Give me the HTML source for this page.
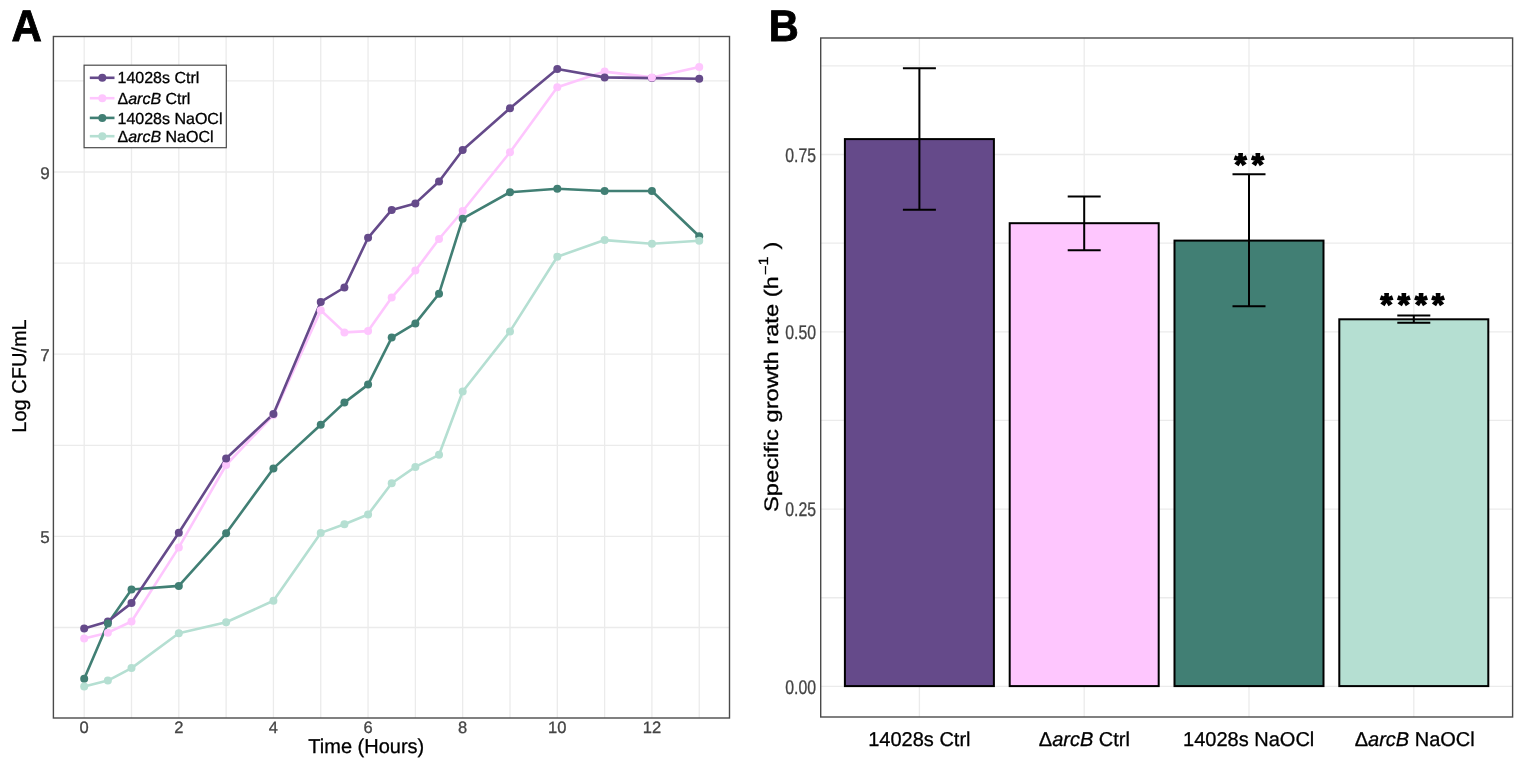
<!DOCTYPE html><html><head><meta charset="utf-8"><title>Figure</title><style>html,body{margin:0;padding:0;background:#fff;width:1535px;height:768px;overflow:hidden}svg{display:block}text{font-family:"Liberation Sans",Arial,Helvetica,sans-serif;text-rendering:geometricPrecision}.k{stroke:#000;stroke-width:.3px}.g{stroke:#444;stroke-width:.3px}</style></head><body>
<svg width="1535" height="768" viewBox="0 0 1535 768">
<rect width="1535" height="768" fill="#fff"/>
<g id="A">
<text transform="translate(11.6 41.2) scale(0.95 1)" font-size="44.2" font-weight="bold" fill="#000" stroke="#000" stroke-width="0.9">A</text>
<path d="M84.20 36.5V718M131.51 36.5V718M178.82 36.5V718M226.13 36.5V718M273.44 36.5V718M320.75 36.5V718M368.06 36.5V718M415.37 36.5V718M462.68 36.5V718M509.99 36.5V718M557.30 36.5V718M604.61 36.5V718M651.92 36.5V718M699.23 36.5V718M53.4 627.50H729.5M53.4 536.40H729.5M53.4 445.30H729.5M53.4 354.20H729.5M53.4 263.10H729.5M53.4 172.00H729.5M53.4 80.90H729.5" stroke="#EBEBEB" stroke-width="1.3" fill="none"/>
<polyline points="84.20,638.5 107.86,632.7 131.51,621.5 178.82,547.4 226.13,465.0 273.44,415.0 320.75,310.2 344.41,332.4 368.06,331.1 391.71,297.6 415.37,270.6 439.03,239.0 462.68,211.0 509.99,152.3 557.30,87.2 604.61,71.6 651.92,77.4 699.23,67.0" fill="none" stroke="#FEC6FE" stroke-width="2.6" stroke-linejoin="round"/>
<polyline points="84.20,686.6 107.86,680.6 131.51,668.1 178.82,633.3 226.13,622.3 273.44,600.8 320.75,532.9 344.41,524.3 368.06,514.5 391.71,483.3 415.37,466.9 439.03,454.8 462.68,391.5 509.99,331.4 557.30,256.7 604.61,240.1 651.92,243.7 699.23,240.8" fill="none" stroke="#B5DFD2" stroke-width="2.6" stroke-linejoin="round"/>
<polyline points="84.20,678.8 107.86,623.4 131.51,589.5 178.82,585.9 226.13,533.3 273.44,468.4 320.75,424.7 344.41,402.6 368.06,384.6 391.71,337.6 415.37,323.4 439.03,293.7 462.68,218.7 509.99,192.2 557.30,188.7 604.61,191.0 651.92,191.0 699.23,236.2" fill="none" stroke="#417F74" stroke-width="2.6" stroke-linejoin="round"/>
<polyline points="84.20,628.6 107.86,621.5 131.51,603.1 178.82,532.8 226.13,458.5 273.44,414.0 320.75,301.9 344.41,287.5 368.06,237.8 391.71,209.9 415.37,203.4 439.03,181.5 462.68,150.0 509.99,108.3 557.30,69.0 604.61,77.4 651.92,78.1 699.23,78.7" fill="none" stroke="#654A8A" stroke-width="2.6" stroke-linejoin="round"/>
<circle cx="84.20" cy="638.5" r="4.0" fill="#FEC6FE"/><circle cx="107.86" cy="632.7" r="4.0" fill="#FEC6FE"/><circle cx="131.51" cy="621.5" r="4.0" fill="#FEC6FE"/><circle cx="178.82" cy="547.4" r="4.0" fill="#FEC6FE"/><circle cx="226.13" cy="465.0" r="4.0" fill="#FEC6FE"/><circle cx="273.44" cy="415.0" r="4.0" fill="#FEC6FE"/><circle cx="320.75" cy="310.2" r="4.0" fill="#FEC6FE"/><circle cx="344.41" cy="332.4" r="4.0" fill="#FEC6FE"/><circle cx="368.06" cy="331.1" r="4.0" fill="#FEC6FE"/><circle cx="391.71" cy="297.6" r="4.0" fill="#FEC6FE"/><circle cx="415.37" cy="270.6" r="4.0" fill="#FEC6FE"/><circle cx="439.03" cy="239.0" r="4.0" fill="#FEC6FE"/><circle cx="462.68" cy="211.0" r="4.0" fill="#FEC6FE"/><circle cx="509.99" cy="152.3" r="4.0" fill="#FEC6FE"/><circle cx="557.30" cy="87.2" r="4.0" fill="#FEC6FE"/><circle cx="604.61" cy="71.6" r="4.0" fill="#FEC6FE"/><circle cx="699.23" cy="67.0" r="4.0" fill="#FEC6FE"/>
<circle cx="84.20" cy="628.6" r="4.0" fill="#654A8A"/><circle cx="107.86" cy="621.5" r="4.0" fill="#654A8A"/><circle cx="131.51" cy="603.1" r="4.0" fill="#654A8A"/><circle cx="178.82" cy="532.8" r="4.0" fill="#654A8A"/><circle cx="226.13" cy="458.5" r="4.0" fill="#654A8A"/><circle cx="273.44" cy="414.0" r="4.0" fill="#654A8A"/><circle cx="320.75" cy="301.9" r="4.0" fill="#654A8A"/><circle cx="344.41" cy="287.5" r="4.0" fill="#654A8A"/><circle cx="368.06" cy="237.8" r="4.0" fill="#654A8A"/><circle cx="391.71" cy="209.9" r="4.0" fill="#654A8A"/><circle cx="415.37" cy="203.4" r="4.0" fill="#654A8A"/><circle cx="439.03" cy="181.5" r="4.0" fill="#654A8A"/><circle cx="462.68" cy="150.0" r="4.0" fill="#654A8A"/><circle cx="509.99" cy="108.3" r="4.0" fill="#654A8A"/><circle cx="557.30" cy="69.0" r="4.0" fill="#654A8A"/><circle cx="604.61" cy="77.4" r="4.0" fill="#654A8A"/><circle cx="651.92" cy="78.1" r="4.0" fill="#654A8A"/><circle cx="699.23" cy="78.7" r="4.0" fill="#654A8A"/>
<circle cx="84.20" cy="678.8" r="4.0" fill="#417F74"/><circle cx="107.86" cy="623.4" r="4.0" fill="#417F74"/><circle cx="131.51" cy="589.5" r="4.0" fill="#417F74"/><circle cx="178.82" cy="585.9" r="4.0" fill="#417F74"/><circle cx="226.13" cy="533.3" r="4.0" fill="#417F74"/><circle cx="273.44" cy="468.4" r="4.0" fill="#417F74"/><circle cx="320.75" cy="424.7" r="4.0" fill="#417F74"/><circle cx="344.41" cy="402.6" r="4.0" fill="#417F74"/><circle cx="368.06" cy="384.6" r="4.0" fill="#417F74"/><circle cx="391.71" cy="337.6" r="4.0" fill="#417F74"/><circle cx="415.37" cy="323.4" r="4.0" fill="#417F74"/><circle cx="439.03" cy="293.7" r="4.0" fill="#417F74"/><circle cx="462.68" cy="218.7" r="4.0" fill="#417F74"/><circle cx="509.99" cy="192.2" r="4.0" fill="#417F74"/><circle cx="557.30" cy="188.7" r="4.0" fill="#417F74"/><circle cx="604.61" cy="191.0" r="4.0" fill="#417F74"/><circle cx="651.92" cy="191.0" r="4.0" fill="#417F74"/><circle cx="699.23" cy="236.2" r="4.0" fill="#417F74"/>
<circle cx="84.20" cy="686.6" r="4.0" fill="#B5DFD2"/><circle cx="107.86" cy="680.6" r="4.0" fill="#B5DFD2"/><circle cx="131.51" cy="668.1" r="4.0" fill="#B5DFD2"/><circle cx="178.82" cy="633.3" r="4.0" fill="#B5DFD2"/><circle cx="226.13" cy="622.3" r="4.0" fill="#B5DFD2"/><circle cx="273.44" cy="600.8" r="4.0" fill="#B5DFD2"/><circle cx="320.75" cy="532.9" r="4.0" fill="#B5DFD2"/><circle cx="344.41" cy="524.3" r="4.0" fill="#B5DFD2"/><circle cx="368.06" cy="514.5" r="4.0" fill="#B5DFD2"/><circle cx="391.71" cy="483.3" r="4.0" fill="#B5DFD2"/><circle cx="415.37" cy="466.9" r="4.0" fill="#B5DFD2"/><circle cx="439.03" cy="454.8" r="4.0" fill="#B5DFD2"/><circle cx="462.68" cy="391.5" r="4.0" fill="#B5DFD2"/><circle cx="509.99" cy="331.4" r="4.0" fill="#B5DFD2"/><circle cx="557.30" cy="256.7" r="4.0" fill="#B5DFD2"/><circle cx="604.61" cy="240.1" r="4.0" fill="#B5DFD2"/><circle cx="651.92" cy="243.7" r="4.0" fill="#B5DFD2"/><circle cx="699.23" cy="240.8" r="4.0" fill="#B5DFD2"/>
<circle cx="651.92" cy="77.4" r="4.0" fill="#FEC6FE"/>
<rect x="53.4" y="36.5" width="676.1" height="681.5" fill="none" stroke="#4A4A4A" stroke-width="1.4"/>
<text x="49.6" y="542.9" font-size="17" fill="#444444" class="g" text-anchor="end">5</text>
<text x="49.6" y="360.7" font-size="17" fill="#444444" class="g" text-anchor="end">7</text>
<text x="49.6" y="178.5" font-size="17" fill="#444444" class="g" text-anchor="end">9</text>
<text x="84.20" y="733.3" font-size="16.5" fill="#444444" class="g" text-anchor="middle">0</text>
<text x="178.82" y="733.3" font-size="16.5" fill="#444444" class="g" text-anchor="middle">2</text>
<text x="273.44" y="733.3" font-size="16.5" fill="#444444" class="g" text-anchor="middle">4</text>
<text x="368.06" y="733.3" font-size="16.5" fill="#444444" class="g" text-anchor="middle">6</text>
<text x="462.68" y="733.3" font-size="16.5" fill="#444444" class="g" text-anchor="middle">8</text>
<text x="557.30" y="733.3" font-size="16.5" fill="#444444" class="g" text-anchor="middle">10</text>
<text x="651.92" y="733.3" font-size="16.5" fill="#444444" class="g" text-anchor="middle">12</text>
<text x="366.3" y="753.4" font-size="20" fill="#000" class="k" text-anchor="middle">Time (Hours)</text>
<text transform="translate(26.3 376) rotate(-90)" font-size="20" fill="#000" class="k" text-anchor="middle">Log CFU/mL</text>
<rect x="84.1" y="65.2" width="142.2" height="82.5" fill="#fff" stroke="#4A4A4A" stroke-width="1.2"/>
<path d="M89.8 77.8H114.5" stroke="#654A8A" stroke-width="2.6"/><circle cx="102.3" cy="77.8" r="4.0" fill="#654A8A"/>
<text x="117.5" y="83.4" font-size="16" fill="#000" class="k">14028s Ctrl</text>
<path d="M89.8 98.2H114.5" stroke="#FEC6FE" stroke-width="2.6"/><circle cx="102.3" cy="98.2" r="4.0" fill="#FEC6FE"/>
<text x="117.5" y="103.8" font-size="16" fill="#000" class="k">Δ<tspan font-style="italic">arcB</tspan> Ctrl</text>
<path d="M89.8 117.9H114.5" stroke="#417F74" stroke-width="2.6"/><circle cx="102.3" cy="117.9" r="4.0" fill="#417F74"/>
<text x="117.5" y="123.5" font-size="16" fill="#000" class="k">14028s NaOCl</text>
<path d="M89.8 136.2H114.5" stroke="#B5DFD2" stroke-width="2.6"/><circle cx="102.3" cy="136.2" r="4.0" fill="#B5DFD2"/>
<text x="117.5" y="141.8" font-size="16" fill="#000" class="k">Δ<tspan font-style="italic">arcB</tspan> NaOCl</text>
</g>
<g id="B">
<text transform="translate(768.7 41.4) scale(0.94 1)" font-size="44.2" font-weight="bold" fill="#000" stroke="#000" stroke-width="0.9">B</text>
<path d="M919.4 38V717M1084.2 38V717M1249.0 38V717M1413.8 38V717M820.7 686.40H1512.6M820.7 597.75H1512.6M820.7 509.10H1512.6M820.7 420.45H1512.6M820.7 331.80H1512.6M820.7 243.15H1512.6M820.7 154.50H1512.6M820.7 65.85H1512.6" stroke="#EBEBEB" stroke-width="1.3" fill="none"/>
<rect x="844.90" y="139.1" width="149" height="547.0" fill="#654A8A" stroke="#000" stroke-width="2"/>
<rect x="1009.70" y="223.2" width="149" height="462.9" fill="#FEC6FE" stroke="#000" stroke-width="2"/>
<rect x="1174.50" y="240.6" width="149" height="445.5" fill="#417F74" stroke="#000" stroke-width="2"/>
<rect x="1339.30" y="319.3" width="149" height="366.8" fill="#B5DFD2" stroke="#000" stroke-width="2"/>
<path d="M902.9 68.3H935.9M919.4 68.3V209.8M902.9 209.8H935.9" stroke="#000" stroke-width="2" fill="none"/>
<path d="M1067.7 196.5H1100.7M1084.2 196.5V250.2M1067.7 250.2H1100.7" stroke="#000" stroke-width="2" fill="none"/>
<path d="M1232.5 174.3H1265.5M1249.0 174.3V306.3M1232.5 306.3H1265.5" stroke="#000" stroke-width="2" fill="none"/>
<path d="M1397.3 315.4H1430.3M1413.8 315.4V322.8M1397.3 322.8H1430.3" stroke="#000" stroke-width="2" fill="none"/>
<rect x="820.7" y="38" width="691.9" height="679.0" fill="none" stroke="#4A4A4A" stroke-width="1.4"/>
<text transform="translate(816 693.5) scale(0.8 1)" font-size="19.8" fill="#444444" stroke="#444444" stroke-width="0.3" text-anchor="end">0.00</text>
<text transform="translate(816 516.2) scale(0.8 1)" font-size="19.8" fill="#444444" stroke="#444444" stroke-width="0.3" text-anchor="end">0.25</text>
<text transform="translate(816 338.9) scale(0.8 1)" font-size="19.8" fill="#444444" stroke="#444444" stroke-width="0.3" text-anchor="end">0.50</text>
<text transform="translate(816 161.6) scale(0.8 1)" font-size="19.8" fill="#444444" stroke="#444444" stroke-width="0.3" text-anchor="end">0.75</text>
<text x="919.4" y="745.7" font-size="20" fill="#000" class="k" text-anchor="middle">14028s Ctrl</text>
<text x="1084.4" y="745.7" font-size="20" fill="#000" class="k" text-anchor="middle">Δ<tspan font-style="italic">arcB</tspan> Ctrl</text>
<text x="1248.7" y="745.7" font-size="20" fill="#000" class="k" text-anchor="middle">14028s NaOCl</text>
<text x="1414.7" y="745.7" font-size="20" fill="#000" class="k" text-anchor="middle">Δ<tspan font-style="italic">arcB</tspan> NaOCl</text>
<text transform="translate(777.5 512) rotate(-90) scale(1.215 1)" font-size="19.5" fill="#000" class="k">Specific growth rate (h<tspan font-size="13.5" dy="-7.9" dx="1">−</tspan><tspan font-size="13.5" dy="-1.8">1</tspan><tspan dy="9.7" dx="5.6">)</tspan></text>
<text x="1234.5" y="175.2" font-size="31" font-weight="bold" fill="#000" stroke="#000" stroke-width="1.5" letter-spacing="5.1">**</text>
<text x="1380.6" y="315.4" font-size="31" font-weight="bold" fill="#000" stroke="#000" stroke-width="1.5" letter-spacing="5.1">****</text>
</g>
</svg></body></html>
